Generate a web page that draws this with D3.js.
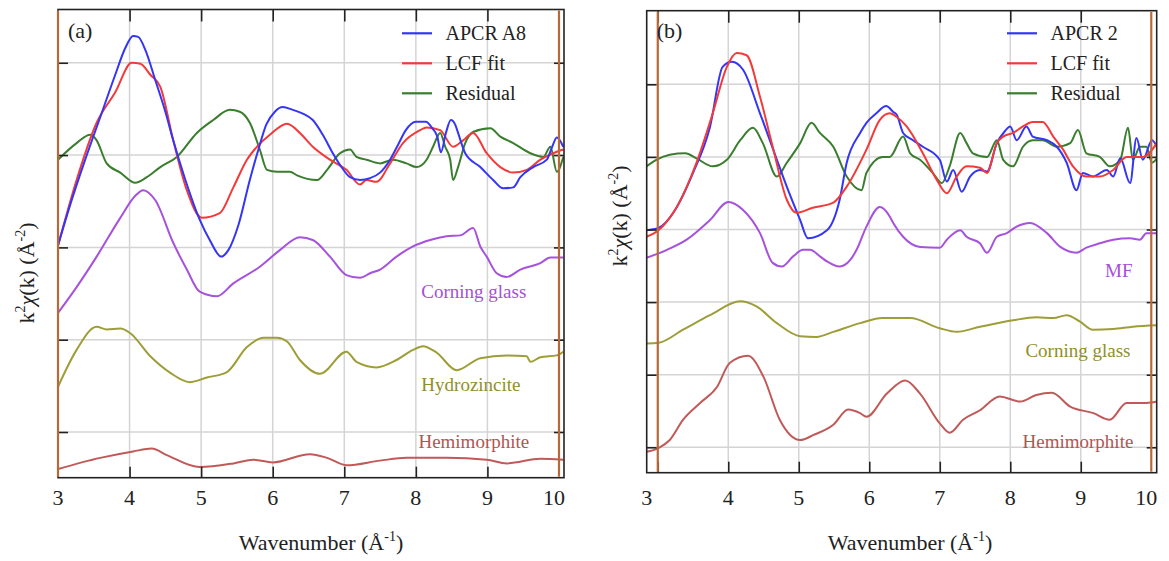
<!DOCTYPE html>
<html><head><meta charset="utf-8">
<script src="https://cdn.jsdelivr.net/npm/d3@7"></script>
<style>
body{margin:0;background:#fff}
svg{display:block}
</style>
</head><body>
<svg id="c" width="1169" height="561"></svg>
<script>
// ---------- DATA (k in Å^-1, offset k²χ(k) in grid units) ----------
const xTickValues = [3, 4, 5, 6, 7, 8, 9, 10];
const xTickLabels = ["3", "4", "5", "6", "7", "8", "9", "10"];
const markerK = [3, 10];

// Panel (a)
const a_apcr = [[3.00,2.02],[3.17,2.46],[3.38,2.95],[3.59,3.41],[3.80,3.87],[3.94,4.16],[4.05,4.29],[4.12,4.28],[4.22,4.14],[4.36,3.81],[4.50,3.47],[4.61,3.16],[4.78,2.73],[4.98,2.30],[5.12,2.08],[5.28,1.90],[5.38,1.97],[5.52,2.24],[5.68,2.73],[5.80,3.06],[5.91,3.33],[6.03,3.47],[6.14,3.52],[6.28,3.49],[6.42,3.45],[6.56,3.38],[6.70,3.22],[6.84,3.02],[6.97,2.86],[7.08,2.76],[7.22,2.73],[7.36,2.75],[7.50,2.81],[7.64,2.95],[7.75,3.11],[7.86,3.27],[8.00,3.36],[8.14,3.36],[8.23,3.29],[8.30,3.20],[8.35,3.03],[8.42,3.24],[8.49,3.38],[8.55,3.33],[8.59,3.24],[8.69,3.02],[8.90,2.87],[9.08,2.73],[9.22,2.64],[9.36,2.65],[9.46,2.76],[9.64,2.87],[9.83,2.95],[9.90,3.08],[9.97,3.19],[10.06,3.09]];
const a_fit = [[3.00,2.02],[3.26,2.73],[3.54,3.35],[3.80,3.68],[4.03,4.00],[4.15,3.99],[4.29,3.87],[4.43,3.74],[4.61,3.16],[4.80,2.62],[5.01,2.32],[5.26,2.37],[5.45,2.65],[5.64,2.95],[5.78,3.09],[5.96,3.22],[6.20,3.34],[6.38,3.24],[6.56,3.09],[6.80,2.95],[7.03,2.84],[7.22,2.68],[7.31,2.73],[7.45,2.71],[7.64,2.91],[7.82,3.13],[8.06,3.27],[8.15,3.30],[8.34,3.27],[8.52,3.09],[8.66,3.16],[8.80,3.24],[8.99,3.02],[9.18,2.87],[9.36,2.81],[9.55,2.84],[9.74,2.95],[9.92,3.02],[10.06,3.06]];
const a_resid = [[3.00,2.95],[3.26,3.13],[3.45,3.22],[3.54,3.16],[3.68,2.91],[3.87,2.81],[4.08,2.70],[4.24,2.76],[4.43,2.87],[4.66,2.98],[4.94,3.24],[5.17,3.38],[5.40,3.49],[5.54,3.47],[5.68,3.35],[5.82,3.06],[5.92,2.84],[6.06,2.82],[6.24,2.82],[6.34,2.78],[6.62,2.73],[6.76,2.84],[6.94,3.02],[7.08,3.06],[7.17,2.98],[7.31,2.95],[7.50,2.91],[7.68,2.95],[7.87,2.91],[8.01,2.87],[8.15,2.95],[8.24,3.09],[8.34,3.24],[8.41,3.09],[8.48,2.95],[8.52,2.73],[8.59,2.87],[8.69,3.13],[8.80,3.25],[9.04,3.29],[9.18,3.20],[9.36,3.13],[9.60,3.02],[9.78,2.98],[9.88,3.09],[9.97,2.82],[10.06,2.98]];
const a_corning = [[3.00,1.29],[3.26,1.57],[3.54,1.90],[3.87,2.32],[4.08,2.56],[4.19,2.62],[4.36,2.51],[4.61,2.05],[4.80,1.76],[4.98,1.52],[5.22,1.47],[5.45,1.61],[5.82,1.79],[6.10,1.97],[6.38,2.11],[6.56,2.08],[6.80,1.90],[7.03,1.70],[7.22,1.67],[7.36,1.72],[7.50,1.76],[7.73,1.90],[7.96,2.01],[8.20,2.08],[8.43,2.12],[8.62,2.13],[8.80,2.21],[8.90,2.01],[8.99,1.90],[9.13,1.72],[9.27,1.68],[9.46,1.76],[9.74,1.83],[9.88,1.89],[10.06,1.89]];
const a_hydro = [[3.00,0.49],[3.26,0.89],[3.54,1.14],[3.68,1.11],[3.87,1.12],[4.01,1.07],[4.29,0.82],[4.57,0.64],[4.84,0.54],[5.08,0.59],[5.36,0.65],[5.64,0.92],[5.87,1.02],[6.06,1.02],[6.20,0.98],[6.38,0.78],[6.66,0.63],[7.03,0.87],[7.17,0.76],[7.45,0.70],[7.73,0.78],[7.96,0.89],[8.10,0.93],[8.29,0.86],[8.57,0.67],[8.90,0.80],[9.27,0.83],[9.55,0.82],[9.60,0.76],[9.74,0.81],[9.97,0.83],[10.06,0.87]];
const a_hemi = [[3.00,-0.40],[3.59,-0.28],[4.05,-0.21],[4.31,-0.18],[4.52,-0.25],[4.98,-0.38],[5.45,-0.34],[5.73,-0.30],[6.00,-0.33],[6.52,-0.24],[6.76,-0.28],[7.03,-0.36],[7.50,-0.31],[7.87,-0.28],[8.43,-0.28],[8.99,-0.30],[9.27,-0.34],[9.74,-0.29],[10.06,-0.30]];

// Panel (b)
const b_apcr = [[2.84,2.99],[3.01,3.02],[3.22,3.23],[3.50,3.78],[3.74,4.41],[3.92,5.24],[4.05,5.31],[4.21,5.20],[4.45,4.60],[4.69,3.96],[4.83,3.59],[5.02,3.13],[5.13,2.88],[5.40,2.99],[5.58,3.41],[5.68,3.92],[5.87,4.33],[5.96,4.47],[6.10,4.60],[6.24,4.70],[6.34,4.62],[6.39,4.58],[6.48,4.33],[6.62,4.23],[6.76,4.14],[7.00,3.96],[7.10,3.66],[7.19,3.82],[7.31,3.52],[7.43,3.73],[7.57,3.82],[7.67,3.80],[7.81,4.19],[7.92,4.35],[8.00,4.42],[8.09,4.23],[8.23,4.42],[8.32,4.28],[8.52,4.23],[8.66,4.14],[8.80,3.92],[8.94,3.54],[9.03,3.78],[9.17,3.73],[9.37,3.82],[9.46,3.73],[9.56,3.98],[9.70,3.64],[9.79,4.26],[9.88,3.96],[10.01,4.23],[10.08,4.14]];
const b_fit = [[2.84,2.90],[3.01,2.99],[3.27,3.31],[3.55,3.92],[3.78,4.60],[3.98,5.24],[4.12,5.43],[4.26,5.40],[4.45,4.83],[4.63,4.14],[4.83,3.41],[4.97,3.23],[5.20,3.30],[5.49,3.37],[5.68,3.59],[5.96,4.10],[6.15,4.51],[6.29,4.60],[6.39,4.55],[6.53,4.42],[6.76,4.05],[6.96,3.68],[7.10,3.50],[7.24,3.73],[7.38,3.87],[7.57,3.85],[7.67,3.78],[7.81,4.19],[7.90,4.28],[8.04,4.33],[8.18,4.42],[8.32,4.48],[8.46,4.48],[8.61,4.28],[8.75,4.10],[8.89,3.87],[9.08,3.73],[9.27,3.73],[9.46,3.82],[9.65,4.00],[9.88,4.00],[10.08,4.19]];
const b_resid = [[2.84,3.87],[2.98,3.96],[3.17,4.03],[3.39,4.05],[3.55,3.98],[3.78,3.87],[3.98,3.96],[4.17,4.23],[4.35,4.40],[4.49,4.19],[4.69,3.73],[4.83,3.92],[5.02,4.19],[5.18,4.47],[5.30,4.33],[5.49,4.14],[5.68,3.73],[5.89,3.54],[5.96,3.78],[6.19,4.00],[6.29,4.00],[6.48,4.28],[6.58,4.05],[6.72,3.96],[6.90,3.78],[7.03,3.64],[7.14,3.87],[7.29,4.33],[7.38,4.19],[7.47,4.05],[7.67,4.00],[7.81,4.23],[7.90,3.96],[8.04,3.87],[8.18,4.14],[8.32,4.23],[8.46,4.23],[8.66,4.14],[8.85,4.19],[8.96,4.37],[9.08,4.05],[9.27,4.00],[9.41,3.87],[9.56,3.96],[9.67,4.40],[9.74,3.96],[9.84,4.14],[9.93,4.14],[10.01,3.92],[10.08,3.98]];
const b_mf = [[2.84,2.61],[3.13,2.72],[3.41,2.86],[3.74,3.13],[4.00,3.38],[4.21,3.27],[4.45,2.95],[4.63,2.54],[4.76,2.49],[4.92,2.63],[5.06,2.72],[5.16,2.72],[5.30,2.63],[5.40,2.56],[5.58,2.49],[5.73,2.58],[5.82,2.72],[5.96,3.04],[6.15,3.31],[6.29,3.18],[6.34,3.09],[6.48,2.90],[6.72,2.76],[7.00,2.75],[7.10,2.86],[7.29,2.99],[7.38,2.90],[7.57,2.81],[7.67,2.68],[7.81,2.90],[7.95,2.95],[8.09,3.04],[8.28,3.09],[8.52,2.95],[8.71,2.76],[8.94,2.68],[9.08,2.75],[9.27,2.81],[9.46,2.86],[9.70,2.88],[9.84,2.86],[9.93,2.95],[10.08,2.95]];
const b_corning = [[2.84,1.43],[3.01,1.44],[3.36,1.62],[3.74,1.82],[4.17,2.01],[4.40,1.94],[4.69,1.71],[5.02,1.53],[5.25,1.52],[5.49,1.59],[5.87,1.71],[6.19,1.78],[6.58,1.78],[7.00,1.64],[7.24,1.59],[7.57,1.66],[8.04,1.75],[8.37,1.79],[8.61,1.78],[8.80,1.82],[8.99,1.73],[9.17,1.62],[9.46,1.63],[9.74,1.66],[10.08,1.68]];
const b_hemi = [[2.84,-0.06],[3.01,-0.01],[3.17,0.10],[3.36,0.38],[3.60,0.61],[3.84,0.83],[4.02,1.16],[4.28,1.26],[4.50,0.97],[4.73,0.38],[5.02,0.10],[5.21,0.17],[5.49,0.31],[5.70,0.52],[5.87,0.47],[5.96,0.42],[6.25,0.74],[6.51,0.92],[6.72,0.74],[7.00,0.33],[7.14,0.20],[7.33,0.38],[7.57,0.51],[7.85,0.70],[8.14,0.63],[8.37,0.72],[8.59,0.75],[8.85,0.56],[9.18,0.47],[9.41,0.38],[9.65,0.61],[9.93,0.61],[10.08,0.63]];

const legendA = ["APCR A8", "LCF fit", "Residual"];
const legendB = ["APCR 2", "LCF fit", "Residual"];

// ---------- STYLE / LAYOUT ----------
const FONT = "'Liberation Serif'";
const C = {blue:"#3535f5", red:"#f23a3a", green:"#3b7d2e", purple:"#a652dc", olive:"#9e9e38", hemi:"#c05a58",
           purpleT:"#a450d6", oliveT:"#8f8f2c", hemiT:"#b25552", brown:"#b8693a", grid:"#d4d4d4", axis:"#222"};

const panels = [
  {id:"a", tag:"(a)", x0:58, x1:564, y0:477.7, y1:9.5, xd:[3,10.07], yd:[-0.495,4.577], yTicks:[0,1,2,3,4],
   firstLabelAtEdge:false,
   series:[{d:a_hemi,c:C.hemi},{d:a_hydro,c:C.olive},{d:a_corning,c:C.purple},{d:a_resid,c:C.green},{d:a_fit,c:C.red},{d:a_apcr,c:C.blue}],
   legend:legendA, legColors:[C.blue,C.red,C.green], legX:402, legTx:445.5,
   labels:[{t:"Corning glass",k:8.81,v:1.45,c:C.purpleT},{t:"Hydrozincite",k:8.77,v:0.44,c:C.oliveT},{t:"Hemimorphite",k:8.81,v:-0.17,c:C.hemiT}],
   yTitleX:33.5, yTitleY:273, xTitleX:321},
  {id:"b", tag:"(b)", x0:646.7, x1:1156.7, y0:472.7, y1:10.7, xd:[2.843,10.077], yd:[-0.35,6.014], yTicks:[0,1,2,3,4,5],
   firstLabelAtEdge:true,
   series:[{d:b_hemi,c:C.hemi},{d:b_corning,c:C.olive},{d:b_mf,c:C.purple},{d:b_resid,c:C.green},{d:b_apcr,c:C.blue},{d:b_fit,c:C.red}],
   legend:legendB, legColors:[C.blue,C.red,C.green], legX:1007, legTx:1050.5,
   labels:[{t:"MF",k:9.54,v:2.35,c:C.purpleT},{t:"Corning glass",k:8.96,v:1.25,c:C.oliveT},{t:"Hemimorphite",k:8.96,v:-0.01,c:C.hemiT}],
   yTitleX:626.5, yTitleY:216, xTitleX:910}
];

const svg = d3.select("#c");

panels.forEach(p => {
  const x = d3.scaleLinear().domain(p.xd).range([p.x0, p.x1]);
  const y = d3.scaleLinear().domain(p.yd).range([p.y0, p.y1]);
  const g = svg.append("g");
  const inner = xTickValues.filter(v => v > p.xd[0] + 0.05 && v < p.xd[1] - 0.1);

  // grid
  g.selectAll(".vg").data(inner).join("line")
    .attr("x1", d => x(d)).attr("x2", d => x(d)).attr("y1", p.y1).attr("y2", p.y0)
    .attr("stroke", C.grid).attr("stroke-width", 1.5);
  g.selectAll(".hg").data(p.yTicks).join("line")
    .attr("x1", p.x0).attr("x2", p.x1).attr("y1", d => y(d)).attr("y2", d => y(d))
    .attr("stroke", C.grid).attr("stroke-width", 1.5);

  // clip
  svg.append("clipPath").attr("id", "clip" + p.id).append("rect")
    .attr("x", p.x0).attr("y", p.y1).attr("width", p.x1 - p.x0).attr("height", p.y0 - p.y1);

  // curves
  const line = d3.line().x(d => x(d[0])).y(d => y(d[1])).curve(d3.curveMonotoneX);
  const cg = g.append("g").attr("clip-path", "url(#clip" + p.id + ")");
  p.series.forEach(s => {
    cg.append("path").datum(s.d).attr("d", line).attr("fill", "none")
      .attr("stroke", s.c).attr("stroke-width", 2).attr("stroke-linejoin", "round");
  });

  // frame
  g.append("rect").attr("x", p.x0).attr("y", p.y1).attr("width", p.x1 - p.x0).attr("height", p.y0 - p.y1)
    .attr("fill", "none").attr("stroke", C.axis).attr("stroke-width", 1.6);

  // inward ticks
  const bottom = d3.axisBottom(x).tickValues(inner).tickSizeInner(-11).tickSizeOuter(0).tickFormat("");
  const top = d3.axisTop(x).tickValues(inner).tickSizeInner(-12).tickSizeOuter(0).tickFormat("");
  const left = d3.axisLeft(y).tickValues(p.yTicks).tickSizeInner(-10).tickSizeOuter(0).tickFormat("");
  const right = d3.axisRight(y).tickValues(p.yTicks).tickSizeInner(-10).tickSizeOuter(0).tickFormat("");
  [[bottom, `translate(0,${p.y0})`], [top, `translate(0,${p.y1})`], [left, `translate(${p.x0},0)`], [right, `translate(${p.x1},0)`]]
    .forEach(([ax, tr]) => {
      const a = g.append("g").attr("transform", tr).call(ax);
      a.select(".domain").remove();
      a.selectAll("line").attr("stroke", C.axis).attr("stroke-width", 1.6);
    });

  // brown marker lines at k = 3 and k = 10
  g.selectAll(".mk").data(markerK).join("line")
    .attr("x1", d => x(d)).attr("x2", d => x(d)).attr("y1", p.y1 + 1).attr("y2", p.y0 - 1)
    .attr("stroke", C.brown).attr("stroke-width", 2.2);

  // tick labels
  g.selectAll(".tl").data(xTickValues).join("text")
    .attr("x", (d, i) => (i === 0 && p.firstLabelAtEdge) ? x(p.xd[0]) : (d === 10 ? x(d) - 5 : x(d)))
    .attr("y", 505).attr("text-anchor", "middle").attr("font-family", FONT).attr("font-size", 22).attr("fill", "#222")
    .text((d, i) => xTickLabels[i]);

  // panel tag
  g.append("text").attr("x", p.x0 + 10).attr("y", 38).attr("font-family", FONT).attr("font-size", 22).attr("fill", "#222").text(p.tag);

  // legend
  p.legend.forEach((t, i) => {
    const yy = 33.3 + i * 30;
    g.append("line").attr("x1", p.legX).attr("x2", p.legX + 30).attr("y1", yy).attr("y2", yy)
      .attr("stroke", p.legColors[i]).attr("stroke-width", 2.2);
    g.append("text").attr("x", p.legTx).attr("y", yy + 6.5).attr("font-family", FONT).attr("font-size", 20).attr("fill", "#222").text(t);
  });

  // series labels
  g.selectAll(".sl").data(p.labels).join("text")
    .attr("x", d => x(d.k)).attr("y", d => y(d.v)).attr("text-anchor", "middle")
    .attr("font-family", FONT).attr("font-size", 19).attr("fill", d => d.c).text(d => d.t);

  // axis titles
  const xt = g.append("text").attr("x", p.xTitleX).attr("y", 550).attr("text-anchor", "middle")
    .attr("font-family", FONT).attr("font-size", 22).attr("fill", "#222");
  xt.append("tspan").text("Wavenumber (Å");
  xt.append("tspan").attr("font-size", 14).attr("dy", -9).text("-1");
  xt.append("tspan").attr("dy", 9).text(")");

  const yt = g.append("text").attr("transform", `translate(${p.yTitleX},${p.yTitleY}) rotate(-90)`)
    .attr("text-anchor", "middle").attr("font-family", FONT).attr("font-size", 22).attr("fill", "#222");
  yt.append("tspan").text("k");
  yt.append("tspan").attr("font-size", 14).attr("dy", -9).text("2");
  yt.append("tspan").attr("dy", 9).attr("font-style", "italic").text("χ");
  yt.append("tspan").text("(k) (Å");
  yt.append("tspan").attr("font-size", 14).attr("dy", -9).text("-2");
  yt.append("tspan").attr("dy", 9).text(")");
});
</script>
</body></html>
